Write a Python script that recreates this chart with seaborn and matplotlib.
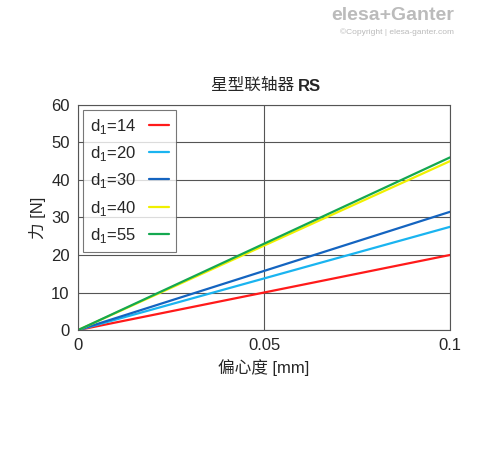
import matplotlib
matplotlib.use("Agg")
import matplotlib.pyplot as plt
import seaborn as sns
import pandas as pd

labels = ["d$_1$=14", "d$_1$=20", "d$_1$=30", "d$_1$=40", "d$_1$=55"]
colors = ["#ff1a1a", "#1ab4f0", "#1464c0", "#f0f000", "#14a850"]
x_vals = [0, 0.1]
end_forces = [20, 27.5, 31.5, 45, 46]

rows = []
for lab, f in zip(labels, end_forces):
    rows.append({"x": x_vals[0], "y": 0, "s": lab})
    rows.append({"x": x_vals[1], "y": f, "s": lab})
df = pd.DataFrame(rows)

sns.set_style("white")
plt.rcParams['font.family'] = ['Liberation Sans', 'Noto Sans CJK SC', 'DejaVu Sans']
plt.rcParams['mathtext.fontset'] = 'custom'
plt.rcParams['mathtext.rm'] = 'Liberation Sans'
fig = plt.figure(figsize=(4.88, 4.54), dpi=100)
ax = fig.add_axes([0.160, 0.273, 0.762, 0.496])
sns.lineplot(data=df, x="x", y="y", hue="s", palette=colors, ax=ax, linewidth=1.6)
ax.set_xlim(0, 0.1)
ax.set_ylim(0, 60)
ax.set_xticks([0, 0.05, 0.1])
ax.set_xticklabels(["0", "0.05", "0.1"])
ax.set_yticks(range(0, 61, 10))
ax.grid(True, color="#555555", linewidth=0.8)
for s in ax.spines.values():
    s.set_color("#555555")
ax.tick_params(labelsize=12, length=0, pad=6)
ax.set_xlabel("偏心度 [mm]", fontsize=12)
ax.set_ylabel("力 [N]", fontsize=12)
ax.text(0.59, 1.05, "星型联轴器 ", transform=ax.transAxes, ha="right", va="bottom",
        fontsize=12, family=['Noto Sans CJK SC'])
ax.text(0.59, 1.05, "RS", transform=ax.transAxes, ha="left", va="bottom",
        fontsize=12, weight="bold", family=['Liberation Sans'])
ax.legend(markerfirst=False, loc="upper left", fontsize=12, frameon=True, fancybox=False,
          edgecolor="#555555", handlelength=1.2, labelspacing=0.5, borderaxespad=0.3,
          title=None).get_frame().set_linewidth(0.8)
fig.text(0.93, 0.955, "elesa+Ganter", ha="right", fontsize=14, color="#bbbbbb", weight="bold")
fig.text(0.93, 0.925, "©Copyright | elesa-ganter.com", ha="right", fontsize=6, color="#bbbbbb")
fig.savefig("out.png", dpi=100)
